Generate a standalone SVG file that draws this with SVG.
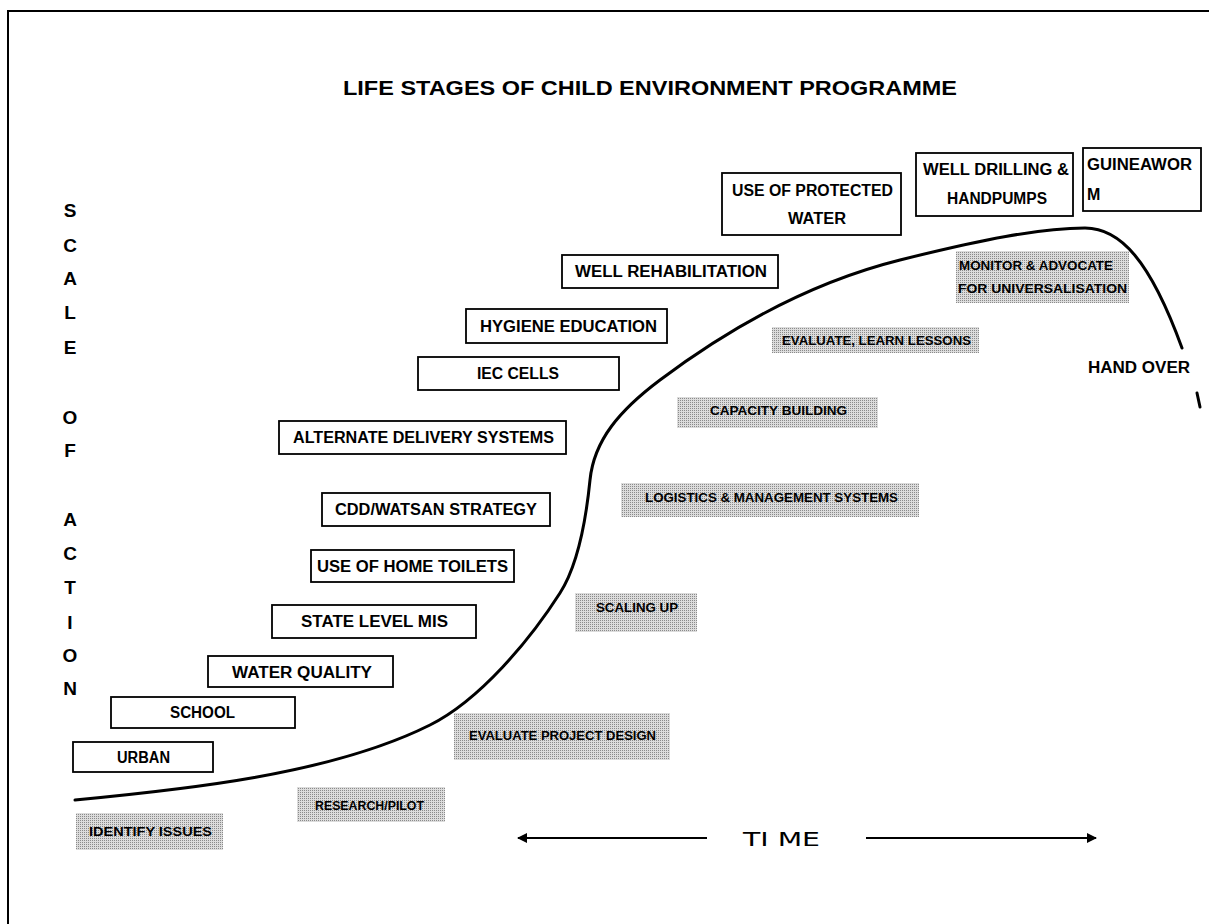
<svg xmlns="http://www.w3.org/2000/svg" width="1209" height="924" viewBox="0 0 1209 924">
<style>
.bg{fill:#fff}
.frame{fill:none;stroke:#000;stroke-width:2}
.box{fill:#fff;stroke:#000;stroke-width:1.8}
.shade{fill:url(#stipple)}
.t{font-family:"Liberation Sans",Arial,sans-serif;font-weight:bold;font-size:16px;fill:#000}
.s{font-family:"Liberation Sans",Arial,sans-serif;font-weight:bold;font-size:13px;fill:#000}
.axis{font-family:"Liberation Sans",Arial,sans-serif;font-weight:bold;font-size:19px;fill:#000;text-anchor:middle}
.title{font-family:"Liberation Sans",Arial,sans-serif;font-weight:bold;font-size:21px;fill:#000}
.time{font-family:"DejaVu Sans",sans-serif;font-size:19px;fill:#000}
.curve{fill:none;stroke:#000;stroke-width:3;stroke-linecap:round}
.arrow{fill:none;stroke:#000;stroke-width:2}
</style>
<defs>
<pattern id="stipple" width="2" height="2" patternUnits="userSpaceOnUse">
<rect width="2" height="2" fill="#dcdcdc"/>
<rect width="1" height="1" fill="#8a8a8a"/>
</pattern>
<marker id="ah" markerWidth="10" markerHeight="10" refX="9" refY="5" orient="auto-start-reverse" markerUnits="userSpaceOnUse">
<path d="M0,0 L10,5 L0,10 Z" fill="#000"/>
</marker>
</defs>
<rect class="bg" width="1209" height="924"/>
<path class="frame" d="M8,924 V11 H1209"/>

<text class="title" x="343" y="95" textLength="614" lengthAdjust="spacingAndGlyphs">LIFE STAGES OF CHILD ENVIRONMENT PROGRAMME</text>

<g id="axis-label">
<text class="axis" x="70" y="217">S</text>
<text class="axis" x="70" y="252">C</text>
<text class="axis" x="70" y="285">A</text>
<text class="axis" x="70" y="319">L</text>
<text class="axis" x="70" y="354">E</text>
<text class="axis" x="70" y="424">O</text>
<text class="axis" x="70" y="457">F</text>
<text class="axis" x="70" y="526">A</text>
<text class="axis" x="70" y="560">C</text>
<text class="axis" x="70" y="594">T</text>
<text class="axis" x="70" y="629">I</text>
<text class="axis" x="70" y="662">O</text>
<text class="axis" x="70" y="695">N</text>
</g>

<g id="connectors">
<path class="curve" d="M75,800 C180,790 330,775 430,725 C480,700 530,640 560,593 C578,565 586,520 590,480 C594,440 620,410 660,380 C720,335 800,285 900,260 C980,240 1040,228 1085,228 C1120,228 1150,260 1182,348"/>
<path class="curve" d="M1197,393 L1200,407" stroke-width="2.5"/>
<line class="arrow" x1="707" y1="838" x2="518" y2="838" marker-end="url(#ah)"/>
<line class="arrow" x1="866" y1="838" x2="1096" y2="838" marker-end="url(#ah)"/>
</g>

<g id="node-urban"><rect class="box" x="73" y="742" width="140" height="30"/><text class="t" x="117" y="763" textLength="53" lengthAdjust="spacingAndGlyphs">URBAN</text></g>
<g id="node-school"><rect class="box" x="111" y="697" width="184" height="31"/><text class="t" x="170" y="718" textLength="65" lengthAdjust="spacingAndGlyphs">SCHOOL</text></g>
<g id="node-water-quality"><rect class="box" x="208" y="656" width="185" height="31"/><text class="t" x="232" y="678" textLength="140" lengthAdjust="spacingAndGlyphs">WATER QUALITY</text></g>
<g id="node-state-mis"><rect class="box" x="272" y="605" width="204" height="33"/><text class="t" x="301" y="627" textLength="147" lengthAdjust="spacingAndGlyphs">STATE LEVEL MIS</text></g>
<g id="node-home-toilets"><rect class="box" x="311" y="550" width="203" height="32"/><text class="t" x="317" y="572" textLength="191" lengthAdjust="spacingAndGlyphs">USE OF HOME TOILETS</text></g>
<g id="node-cdd-watsan"><rect class="box" x="322" y="493" width="228" height="33"/><text class="t" x="335" y="515" textLength="202" lengthAdjust="spacingAndGlyphs">CDD/WATSAN STRATEGY</text></g>
<g id="node-alt-delivery"><rect class="box" x="279" y="421" width="287" height="33"/><text class="t" x="293" y="443" textLength="261" lengthAdjust="spacingAndGlyphs">ALTERNATE DELIVERY SYSTEMS</text></g>
<g id="node-iec"><rect class="box" x="418" y="357" width="201" height="33"/><text class="t" x="477" y="379" textLength="82" lengthAdjust="spacingAndGlyphs">IEC CELLS</text></g>
<g id="node-hygiene"><rect class="box" x="466" y="309" width="201" height="34"/><text class="t" x="480" y="332" textLength="177" lengthAdjust="spacingAndGlyphs">HYGIENE EDUCATION</text></g>
<g id="node-well-rehab"><rect class="box" x="562" y="255" width="216" height="33"/><text class="t" x="575" y="277" textLength="192" lengthAdjust="spacingAndGlyphs">WELL REHABILITATION</text></g>
<g id="node-protected-water"><rect class="box" x="722" y="173" width="179" height="62"/><text class="t" x="732" y="196" textLength="161" lengthAdjust="spacingAndGlyphs">USE OF PROTECTED</text><text class="t" x="788" y="224" textLength="58" lengthAdjust="spacingAndGlyphs">WATER</text></g>
<g id="node-well-drilling"><rect class="box" x="916" y="153" width="157" height="63"/><text class="t" x="923" y="175" textLength="146" lengthAdjust="spacingAndGlyphs">WELL DRILLING &amp;</text><text class="t" x="947" y="204" textLength="100" lengthAdjust="spacingAndGlyphs">HANDPUMPS</text></g>
<g id="node-guineaworm"><rect class="box" x="1083" y="148" width="118" height="63"/><text class="t" x="1087" y="170" textLength="105" lengthAdjust="spacingAndGlyphs">GUINEAWOR</text><text class="t" x="1087" y="200">M</text></g>

<g id="node-monitor"><rect class="shade" x="956" y="251" width="173" height="52"/><text class="s" x="959" y="270" textLength="154" lengthAdjust="spacingAndGlyphs">MONITOR &amp; ADVOCATE</text><text class="s" x="958" y="293" textLength="169" lengthAdjust="spacingAndGlyphs">FOR UNIVERSALISATION</text></g>
<g id="node-evaluate-learn"><rect class="shade" x="772" y="327" width="207" height="26"/><text class="s" x="782" y="345" textLength="189" lengthAdjust="spacingAndGlyphs">EVALUATE, LEARN LESSONS</text></g>
<g id="node-capacity"><rect class="shade" x="677" y="397" width="201" height="31"/><text class="s" x="710" y="415" textLength="137" lengthAdjust="spacingAndGlyphs">CAPACITY BUILDING</text></g>
<g id="node-logistics"><rect class="shade" x="621" y="483" width="298" height="34"/><text class="s" x="645" y="502" textLength="253" lengthAdjust="spacingAndGlyphs">LOGISTICS &amp; MANAGEMENT SYSTEMS</text></g>
<g id="node-scaling"><rect class="shade" x="575" y="593" width="122" height="39"/><text class="s" x="596" y="612" textLength="82" lengthAdjust="spacingAndGlyphs">SCALING UP</text></g>
<g id="node-evaluate-design"><rect class="shade" x="454" y="713" width="216" height="47"/><text class="s" x="469" y="740" textLength="187" lengthAdjust="spacingAndGlyphs">EVALUATE PROJECT DESIGN</text></g>
<g id="node-research"><rect class="shade" x="297" y="787" width="148" height="35"/><text class="s" x="315" y="810" textLength="109" lengthAdjust="spacingAndGlyphs">RESEARCH/PILOT</text></g>
<g id="node-identify"><rect class="shade" x="76" y="813" width="147" height="37"/><text class="s" x="89" y="836" textLength="123" lengthAdjust="spacingAndGlyphs">IDENTIFY ISSUES</text></g>

<g id="node-hand-over"><text class="t" x="1088" y="373" font-size="19" textLength="102" lengthAdjust="spacingAndGlyphs">HAND OVER</text></g>
<g id="time-label"><text class="time" x="743" y="846" textLength="77" lengthAdjust="spacingAndGlyphs">TI ME</text></g>
</svg>
